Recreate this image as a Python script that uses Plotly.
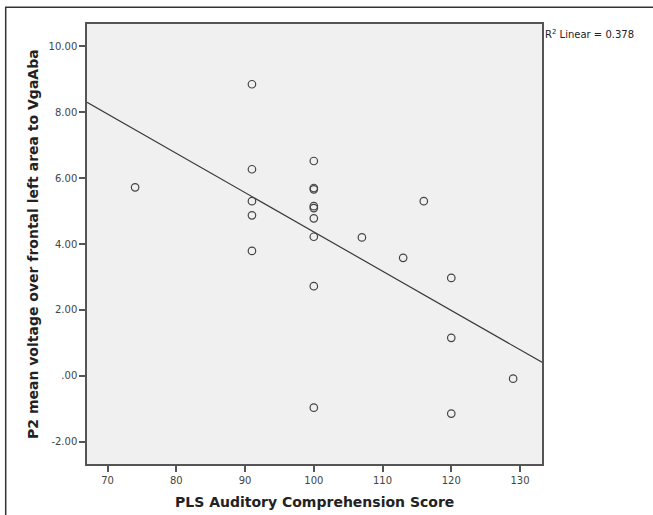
import numpy as np
import plotly.graph_objects as go

# Data
pls_score = [74, 91, 91, 91, 91, 91, 100, 100, 100, 100, 100, 100, 100, 100, 100,
             107, 113, 116, 120, 120, 120, 129]
p2_voltage = [5.72, 8.85, 6.27, 5.30, 4.87, 3.79, 6.52, 5.70, 5.66, 5.15, 5.09, 4.78,
              4.22, 2.72, -0.97, 4.20, 3.58, 5.30, 2.97, 1.15, -1.15, -0.09]

x_tickvals = [70, 80, 90, 100, 110, 120, 130]
y_tickvals = [-2, 0, 2, 4, 6, 8, 10]
y_ticktext = ["-2.00", ".00", "2.00", "4.00", "6.00", "8.00", "10.00"]
r2_label = "R<sup>2</sup> Linear = 0.378"
x_title = "PLS Auditory Comprehension Score"
y_title = "P2 mean voltage over frontal left area to VgaAba"

x_range = [67.0, 133.2]
y_range = [-2.68, 10.68]

slope, intercept = np.polyfit(pls_score, p2_voltage, 1)
fit_x = np.array(x_range)
fit_y = slope * fit_x + intercept

fig = go.Figure()
fig.add_trace(go.Scatter(
    x=fit_x, y=fit_y, mode="lines",
    line=dict(color="#3a3a3a", width=1.2),
    hoverinfo="skip", showlegend=False,
))
fig.add_trace(go.Scatter(
    x=pls_score, y=p2_voltage, mode="markers",
    marker=dict(symbol="circle-open", size=7.5, color="#444444", line=dict(width=1.2)),
    showlegend=False,
))

axis_common = dict(
    showline=True, linecolor="#555555", linewidth=1.5, mirror=True,
    ticks="outside", ticklen=6, tickcolor="#555555", tickwidth=1.5,
    showgrid=False, zeroline=False,
    tickfont=dict(family="DejaVu Sans", size=10, color="#444444"),
)

fig.update_layout(
    width=653, height=515,
    margin=dict(l=87, r=111, t=24, b=51),
    paper_bgcolor="white",
    plot_bgcolor="#f0f0f0",
    xaxis=dict(range=x_range, tickvals=x_tickvals, **axis_common),
    yaxis=dict(range=y_range, tickvals=y_tickvals, ticktext=y_ticktext, **axis_common),
    annotations=[
        dict(text=r2_label, xref="paper", yref="paper", x=1.0, y=1.0,
             xanchor="left", yanchor="top", xshift=1, yshift=-2, showarrow=False,
             font=dict(family="DejaVu Sans", size=10, color="#222222")),
        dict(text=f"<b>{x_title}</b>", xref="paper", yref="paper", x=0.5, y=0,
             xanchor="center", yanchor="middle", yshift=-38, showarrow=False,
             font=dict(family="DejaVu Sans", size=14, color="#222222")),
        dict(text=f"<b>{y_title}</b>", xref="paper", yref="paper", x=0, y=0.5,
             xanchor="center", yanchor="middle", xshift=-54, textangle=-90, showarrow=False,
             font=dict(family="DejaVu Sans", size=14, color="#222222")),
    ],
    shapes=[
        dict(type="rect", xref="paper", yref="paper",
             x0=(5.7 - 87) / 455, x1=(700 - 87) / 455,
             y0=(464 - 560) / 440, y1=(464 - 7.3) / 440,
             line=dict(color="#333333", width=1.5), fillcolor="rgba(0,0,0,0)", layer="below"),
    ],
)

fig.write_html(
    "out.html",
    config={"displayModeBar": False},
    post_script="document.body.style.margin='0';document.body.style.overflow='hidden';",
)
